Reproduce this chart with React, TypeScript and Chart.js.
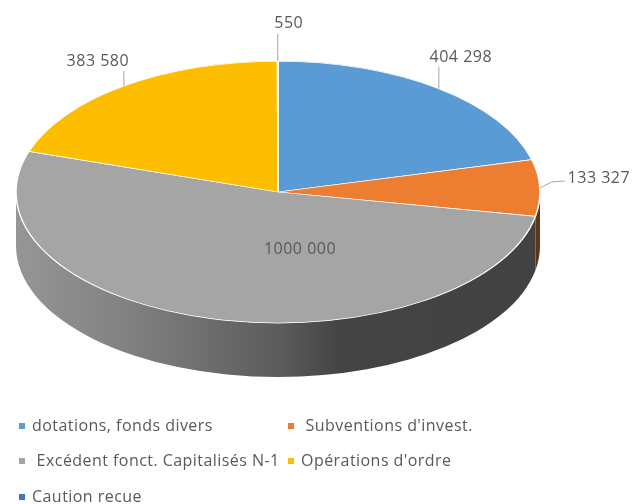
import React, { useEffect, useRef } from "react";
import { Chart, registerables } from "chart.js";

Chart.register(...registerables);

const categories = [
  "dotations, fonds divers",
  " Subventions d'invest.",
  " Excédent fonct. Capitalisés N-1",
  "Opérations d'ordre",
  "Caution recue",
];
const values = [404298, 133327, 1000000, 383580, 550];
const valueLabels = ["404 298", "133 327", "1000 000", "383 580", "550"];
const colors = ["#5B9BD5", "#ED7D31", "#A5A5A5", "#FDBE00", "#4472C4"];
const wallStops = [
  ["#3f6c94", "#3f6c94"],
  ["#8a4c20", "#5e3618"],
  ["#949494", "#424242"],
  ["#b38600", "#b38600"],
  ["#2f5089", "#2f5089"],
];

const SQUASH = 0.5;
const DEPTH = 54;
const TEXT = "#595959";
const FONT = '"Open Sans", sans-serif';

// leader path (relative to the slice's rim point at mid-angle) and text centre
const callouts = [
  { path: [[0, -22]], text: [22, -31] },
  { path: [[12, -6], [25, -7]], text: [59, -10] },
  { path: [], text: null, inside: [22, 57] },
  { path: [[0, -15]], text: [-26, -25] },
  { path: [[0, -27]], text: [11, -38] },
];
const legendSlots = [
  { box: [19, 423], text: [32, 426] },
  { box: [288, 423], text: [301, 426] },
  { box: [19, 458], text: [32, 461] },
  { box: [288, 458], text: [301, 461] },
  { box: [19, 494], text: [32, 497] },
];

const pie3d = {
  id: "pie3d",
  beforeDatasetsDraw(chart: any) {
    const ctx = chart.ctx;
    const arcs = chart.getDatasetMeta(0).data;
    const { x: cx, y: cy, outerRadius: r } = arcs[0];
    const ry = r * SQUASH;
    arcs.forEach((arc: any, i: number) => {
      const s = Math.max(arc.startAngle, 0);
      const e = Math.min(arc.endAngle, Math.PI);
      if (e <= s) return;
      const g = ctx.createLinearGradient(cx - r, 0, cx + r, 0);
      if (i === 2) {
        g.addColorStop(0, "#969696");
        g.addColorStop(0.22, "#808080");
        g.addColorStop(0.5, "#5c5c5c");
        g.addColorStop(0.62, "#444444");
        g.addColorStop(1, "#424242");
      } else {
        g.addColorStop(0, wallStops[i][0]);
        g.addColorStop(1, wallStops[i][1]);
      }
      ctx.save();
      ctx.beginPath();
      ctx.ellipse(cx, cy, r, ry, 0, s, e);
      ctx.ellipse(cx, cy + DEPTH, r, ry, 0, e, s, true);
      ctx.closePath();
      ctx.fillStyle = g;
      ctx.fill();
      ctx.restore();
    });
    ctx.save();
    ctx.translate(cx, cy);
    ctx.scale(1, SQUASH);
    ctx.translate(-cx, -cy);
  },
  afterDatasetsDraw(chart: any) {
    const ctx = chart.ctx;
    ctx.restore();
    const arcs = chart.getDatasetMeta(0).data;
    const { x: cx, y: cy, outerRadius: r } = arcs[0];
    ctx.save();
    ctx.textBaseline = "middle";
    arcs.forEach((arc: any, i: number) => {
      const mid = (arc.startAngle + arc.endAngle) / 2;
      const px = cx + r * Math.cos(mid);
      const py = cy + r * SQUASH * Math.sin(mid);
      const c: any = callouts[i];
      ctx.font = `16px ${FONT}`;
      ctx.letterSpacing = "0.5px";
      ctx.fillStyle = TEXT;
      ctx.textAlign = "center";
      if (c.inside) {
        ctx.fillText(valueLabels[i], cx + c.inside[0], cy + c.inside[1]);
        return;
      }
      ctx.strokeStyle = "#a6a6a6";
      ctx.lineWidth = 1;
      ctx.beginPath();
      ctx.moveTo(px, py);
      c.path.forEach((p: number[]) => ctx.lineTo(px + p[0], py + p[1]));
      ctx.stroke();
      ctx.fillText(valueLabels[i], px + c.text[0], py + c.text[1]);
    });
    ctx.textAlign = "left";
    ctx.font = `16px ${FONT}`;
    ctx.letterSpacing = "0.45px";
    categories.forEach((name, i) => {
      const slot = legendSlots[i];
      ctx.fillStyle = colors[i];
      ctx.fillRect(slot.box[0], slot.box[1], 6, 6);
      ctx.fillStyle = TEXT;
      ctx.fillText(name, slot.text[0], slot.text[1]);
    });
    ctx.restore();
  },
};

export default function App() {
  const ref = useRef<HTMLCanvasElement>(null);
  useEffect(() => {
    const chart = new Chart(ref.current as HTMLCanvasElement, {
      type: "pie",
      data: {
        labels: categories,
        datasets: [
          {
            data: values,
            backgroundColor: colors,
            borderColor: "#ffffff",
            borderWidth: 1.5,
            radius: 262,
            clip: false,
          } as any,
        ],
      },
      options: {
        responsive: false,
        animation: false,
        layout: { padding: { left: 0, top: 0, right: 88, bottom: 120 } },
        plugins: { legend: { display: false }, tooltip: { enabled: false } },
      },
      plugins: [pie3d],
    } as any);
    return () => chart.destroy();
  }, []);
  return (
    <div style={{ position: "absolute", left: 0, top: 0, width: 644, height: 504, background: "#fff", overflow: "hidden" }}>
      <canvas ref={ref} width={644} height={504} style={{ display: "block", width: 644, height: 504, filter: "blur(0.45px)" }} />
    </div>
  );
}
